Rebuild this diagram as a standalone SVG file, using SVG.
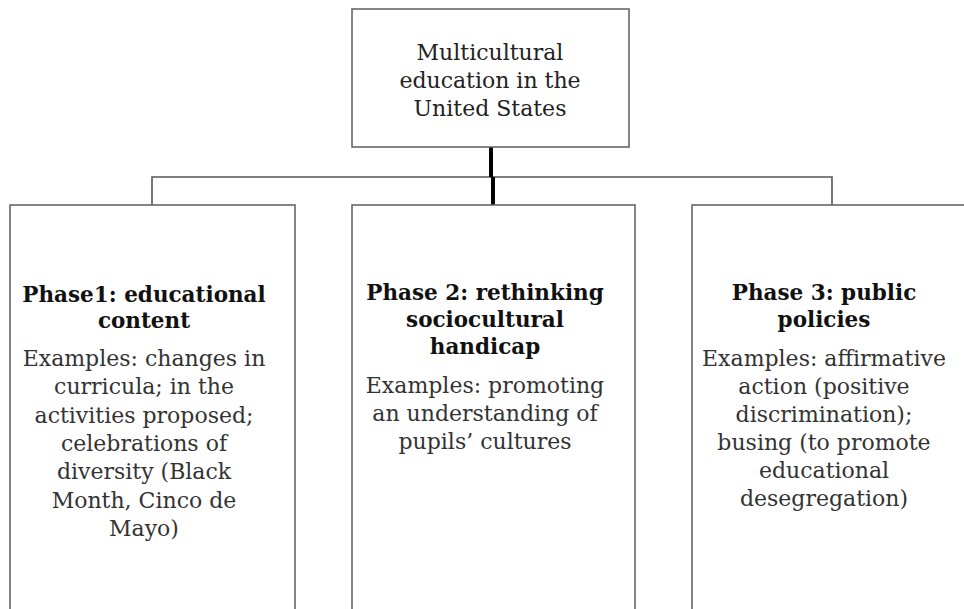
<svg xmlns="http://www.w3.org/2000/svg" width="964" height="609" viewBox="0 0 964 609">
<style>
.box{fill:#fff;stroke:#666;stroke-width:1.6}
.thin{fill:none;stroke:#555;stroke-width:1.6}
.thick{fill:none;stroke:#000;stroke-width:4}
text{font-family:"DejaVu Serif","Liberation Serif",serif;fill:#222;text-anchor:middle}
.t{font-size:22px}
.b{font-size:21.5px;font-weight:bold;fill:#111}
.n{font-size:22px;fill:#333}
</style>
<rect width="964" height="609" fill="#fff"/>
<g id="connectors">
<polyline class="thin" points="152,205 152,177 832,177 832,205"/>
<path class="thick" d="M491,147 V177 M493,177 V205"/>
</g>
<g id="root">
<rect class="box" x="352" y="9" width="277" height="138"/>
<text class="t" x="490" y="60">Multicultural</text>
<text class="t" x="490" y="88">education in the</text>
<text class="t" x="490" y="116">United States</text>
</g>
<g id="phase1">
<rect class="box" x="10" y="205" width="285" height="420"/>
<text class="b" x="144" y="302">Phase1: educational</text>
<text class="b" x="144" y="328">content</text>
<text class="n" x="144" y="366">Examples: changes in</text>
<text class="n" x="144" y="394">curricula; in the</text>
<text class="n" x="144" y="423">activities proposed;</text>
<text class="n" x="144" y="451">celebrations of</text>
<text class="n" x="144" y="479">diversity (Black</text>
<text class="n" x="144" y="508">Month, Cinco de</text>
<text class="n" x="144" y="536">Mayo)</text>
</g>
<g id="phase2">
<rect class="box" x="352" y="205" width="283" height="420"/>
<text class="b" x="485" y="300">Phase 2: rethinking</text>
<text class="b" x="485" y="327">sociocultural</text>
<text class="b" x="485" y="354">handicap</text>
<text class="n" x="485" y="393">Examples: promoting</text>
<text class="n" x="485" y="421">an understanding of</text>
<text class="n" x="485" y="449">pupils’ cultures</text>
</g>
<g id="phase3">
<rect class="box" x="692" y="205" width="290" height="420"/>
<text class="b" x="824" y="300">Phase 3: public</text>
<text class="b" x="824" y="327">policies</text>
<text class="n" x="824" y="366">Examples: affirmative</text>
<text class="n" x="824" y="394">action (positive</text>
<text class="n" x="824" y="422">discrimination);</text>
<text class="n" x="824" y="450">busing (to promote</text>
<text class="n" x="824" y="478">educational</text>
<text class="n" x="824" y="506">desegregation)</text>
</g>
</svg>
